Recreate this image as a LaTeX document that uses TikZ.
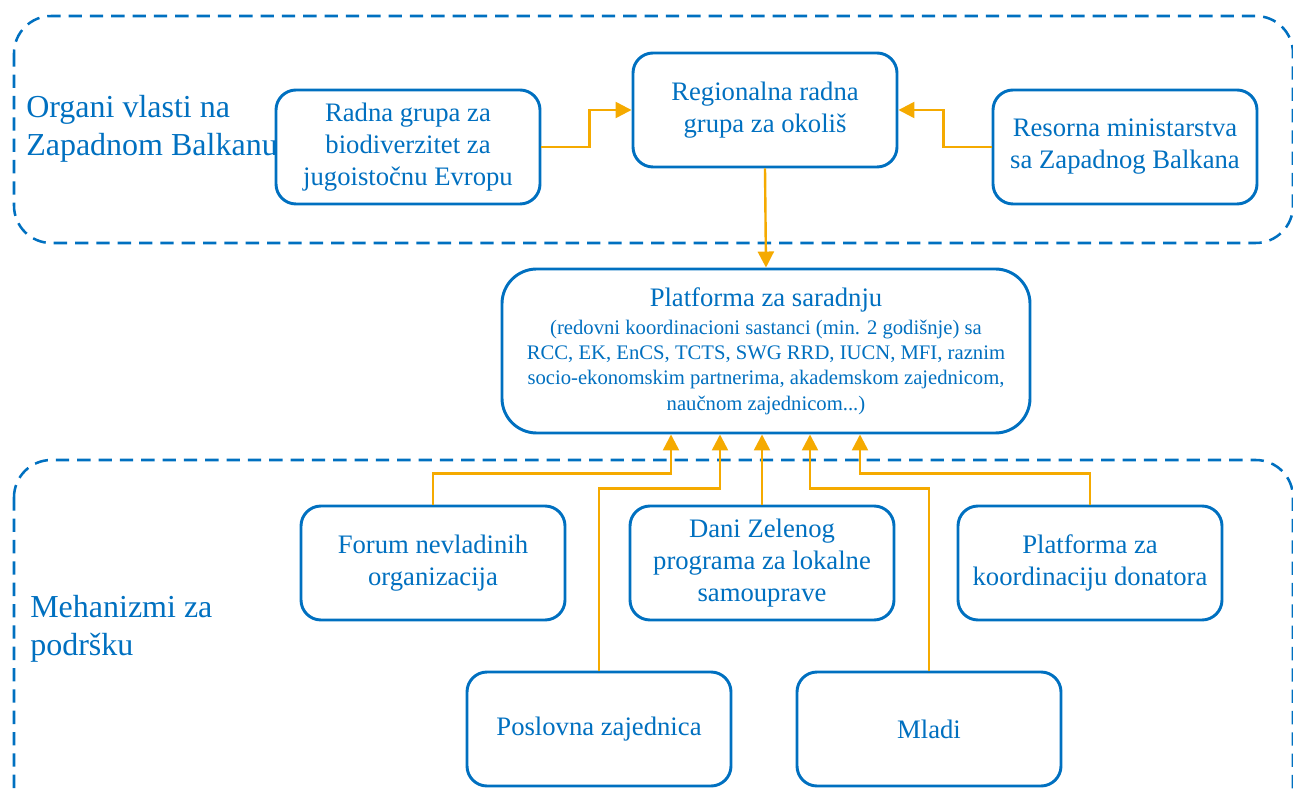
\documentclass[tikz,border=0pt]{standalone}
\usepackage{fontspec}
\setmainfont{Liberation Serif}
\usepackage{tikz}
\usetikzlibrary{arrows.meta}
\definecolor{frameBlue}{RGB}{0,112,192}
\definecolor{linkGold}{RGB}{245,170,0}
\colorlet{boxText}{frameBlue}
\newcommand\detailsize{\fontsize{15.5}{19}\selectfont}
\newcommand\titlesize{\fontsize{20}{24}\selectfont}

\begin{document}
\begin{tikzpicture}[
  x=0.75pt, y=-0.75pt,
  >={Triangle[width=12pt,length=12pt]},
  every unit box/.style={
    draw=frameBlue,
    line width=2.2pt,
    fill=white,
    text=boxText,
    align=center,
    inner sep=4pt,
    font=\titlesize,
  },
  unit box/.style={
    every unit box/.try,
    rounded corners=15pt,
    minimum width=198pt,
    minimum height=85.5pt,
  },
  wide box/.style={
    every unit box/.try,
    rounded corners=26pt,
    minimum width=396pt,
    minimum height=123pt,
    font=\detailsize,
  },
  group frame/.style={
    draw=frameBlue,
    line width=1.9pt,
    dash pattern=on 10pt off 6pt,
    rounded corners=28pt,
  },
  group label/.style={
    text=boxText,
    align=left,
    anchor=west,
    inner sep=0pt,
    font=\fontsize{24}{28.5}\selectfont,
  },
  link/.style={
    draw=linkGold,
    line width=1.8pt,
    fill=none,
  }
]
\useasboundingbox (0,0) rectangle (1293,791);

% groups
\draw[group frame] (14,16) rectangle (1293,243);
\draw[group frame] (14,460) rectangle (1293,830);
\node[group label] (authorities) at (26,129) {Organi vlasti na\\Zapadnom Balkanu};
\node[group label] (support) at (30,629) {Mehanizmi za\\podršku};

% top row
\node[unit box] (workgroup) at (408,147) {Radna grupa za\\biodiverzitet za\\jugoistočnu Evropu};
\node[unit box] (regional) at (765,110) {Regionalna radna\\grupa za okoliš};
\node[unit box] (ministries) at (1125,147) {Resorna ministarstva\\sa Zapadnog Balkana};

% platform
\node[wide box] (platform) at (766,351) {\titlesize Platforma za saradnju\\[2pt]
  (redovni koordinacioni sastanci (min. 2 godišnje) sa\\
  RCC, EK, EnCS, TCTS, SWG RRD, IUCN, MFI, raznim\\
  socio-ekonomskim partnerima, akademskom zajednicom,\\
  naučnom zajednicom...)};

% support mechanisms
\node[unit box] (forum) at (433,563) {Forum nevladinih\\organizacija};
\node[unit box] (greendays) at (762,563) {Dani Zelenog\\programa za lokalne\\samouprave};
\node[unit box] (donors) at (1090,563) {Platforma za\\koordinaciju donatora};
\node[unit box] (business) at (599,729) {Poslovna zajednica};
\node[unit box] (youth) at (929,729) {Mladi};

% connectors
\draw[link,->] (workgroup.east) -- ++(48,0) |- (regional.west);
\draw[link,->] (ministries.west) -- ++(-48,0) |- (regional.east);
\draw[link,->] (regional.south) -- (platform.north);
\draw[link,->] (greendays.north) -- (greendays.north |- platform.south);
\foreach \src/\dx/\drop in {forum/-95/39, business/-46/54, youth/44/54, donors/94/39}
  \draw[link,<-] ([xshift=\dx*0.75pt]platform.south) -- ++(0,\drop) -| (\src.north);
\end{tikzpicture}
\end{document}
